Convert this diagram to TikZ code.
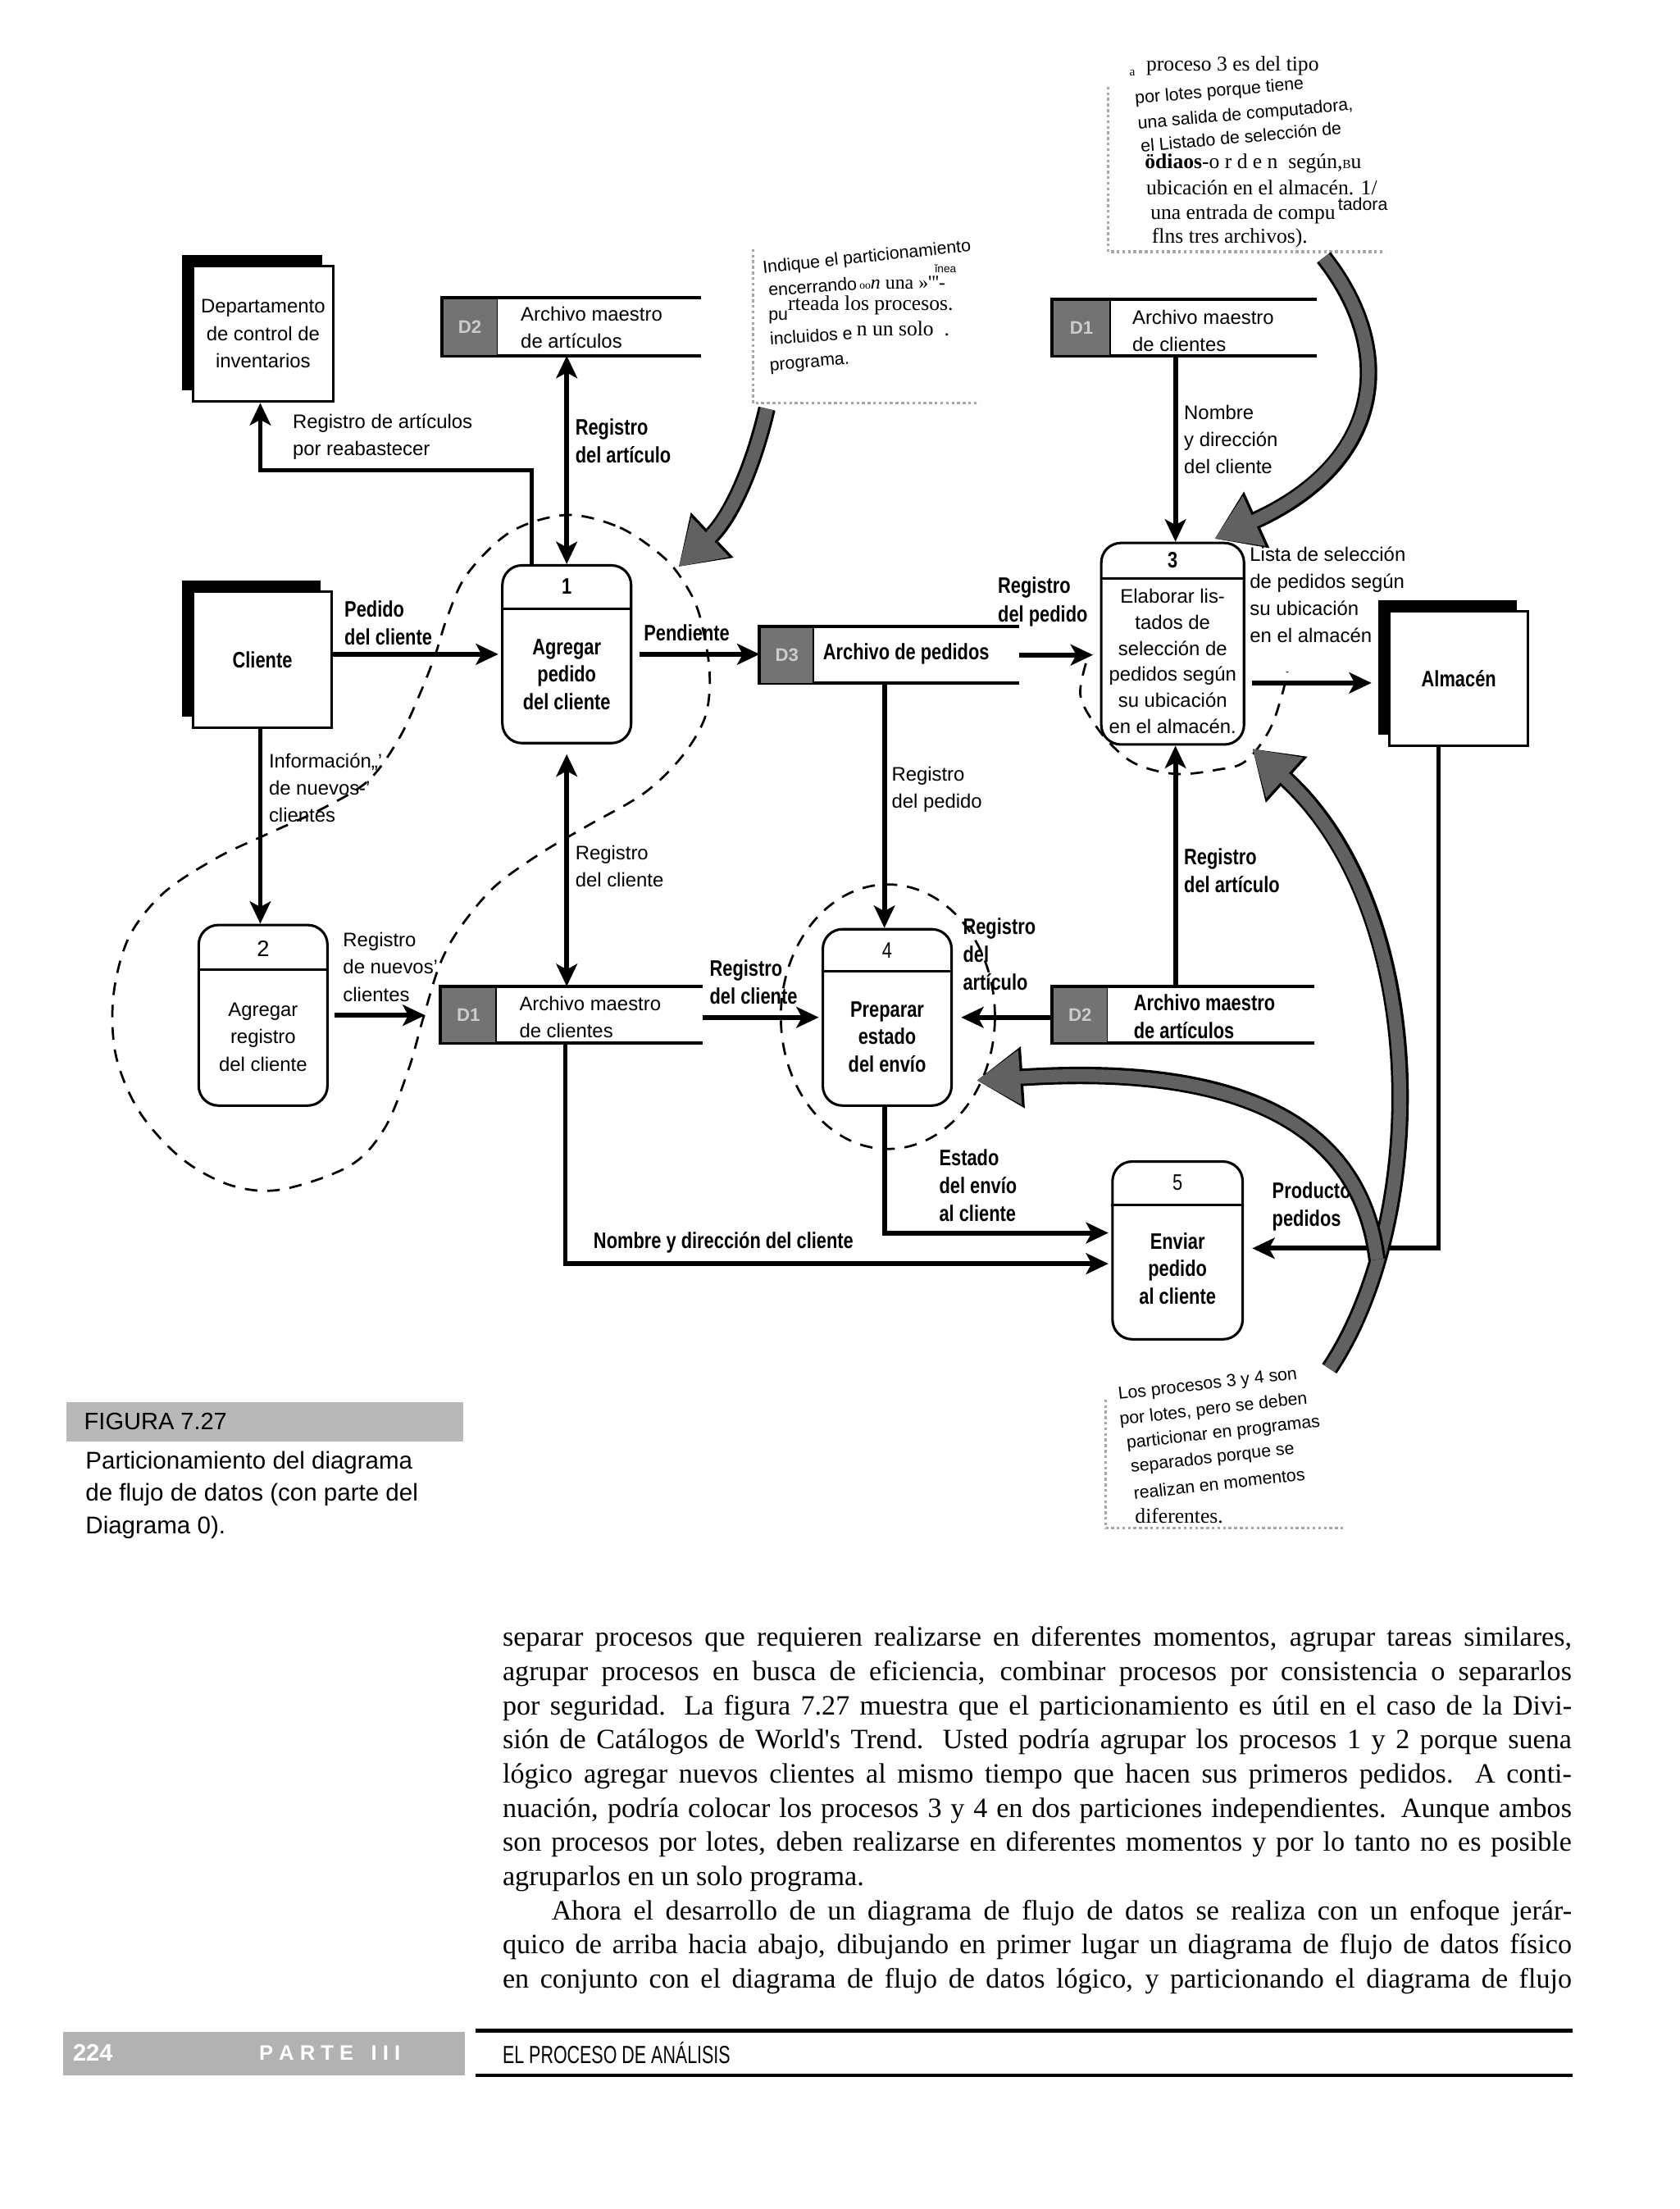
\documentclass[tikz,border=0pt]{standalone}
\usepackage{fontspec}
\setmainfont{Liberation Sans}
\newfontfamily\cnd[FakeStretch=0.8]{Liberation Sans}
\newfontfamily\srf{Liberation Serif}
\newfontfamily\ftr[FakeStretch=0.71]{Liberation Sans}
\usetikzlibrary{arrows.meta,shadows}
\tikzset{
  reg/.style={font=\fontsize{14}{19.5}\selectfont, align=left, inner sep=0pt, anchor=west},
  cl/.style={font=\cnd\bfseries\fontsize{16}{20}\selectfont, align=left, inner sep=0pt, anchor=west},
  ctrreg/.style={font=\fontsize{14}{19.5}\selectfont, align=center, inner sep=0pt},
  ctrcl/.style={font=\cnd\bfseries\fontsize{16}{19.5}\selectfont, align=center, inner sep=0pt},
  fltip/.tip={Stealth[length=16pt,width=15pt,inset=4pt]},
  flow/.style={line width=3.4pt, -fltip},
  flowb/.style={line width=3.4pt, fltip-fltip},
  proc/.style={draw, line width=1.8pt, rounded corners=14pt, inner sep=0pt, fill=white},
  ent/.style={draw, line width=1.8pt, fill=white, inner sep=0pt,
    general shadow={fill=black, shadow xshift=-8pt, shadow yshift=8pt}},
  storebox/.style={inner sep=0pt},
  storeline/.style={line width=2.5pt},
  sid/.style={fill=black!55, draw=black, line width=1pt, inner sep=0pt, text=black!20,
    font=\bfseries\fontsize{13}{13}\selectfont, anchor=north west},
  part/.style={line width=1.6pt, dash pattern=on 9pt off 7pt},
  big/.style={draw=black!62, line width=9pt, -{Triangle[length=31pt,width=37pt]},
    preaction={draw=black, line width=12.5pt, -{Triangle[length=33pt,width=42pt]}}},
  hnd/.style={font=\fontsize{12.5}{15}\selectfont, inner sep=0pt, anchor=west},
  sr/.style={font=\srf\fontsize{15}{17}\selectfont, inner sep=0pt, anchor=west},
  body/.style={font=\srf\fontsize{20}{24}\selectfont, inner sep=0pt, anchor=base west},
  note/.style={draw=black!35, dotted, line width=2pt},
}
\begin{document}
\begin{tikzpicture}[x=1pt,y=-1pt]
\fill[white] (0,0) rectangle (1200,1578.5);
\useasboundingbox (0,0) rectangle (1200,1578.5);

% ---------------- partitions (dashed) ----------------
\draw[part] plot[smooth cycle, tension=0.55] coordinates {(405,368) (443,377) (474,398) (490,418) (500,440) (507,479) (504,512) (487,541) (460,567) (420,590) (386,610) (353,634) (328,664) (314,690) (302,729) (292,764) (275,806) (250,833) (201,850) (165,847) (130,828) (100,795) (83,755) (81,712) (92,670) (117,638) (155,613) (191,596) (230,578) (263,558) (285,528) (300,496) (311,468) (320,440) (334,410) (365,380)};
\draw[part] (634.5,726.5) ellipse [x radius=76.5pt, y radius=94.5pt];
\draw[part] plot[smooth, tension=0.6] coordinates {(776,474) (772,496) (780,514) (794,532) (812,546) (840,553) (870,550) (890,544) (907,522) (916,497) (920,480)};

% ---------------- external entities ----------------
\node[ent, minimum width=100pt, minimum height=97pt, ctrreg] (dept) at (188,238.5) {Departamento\\de control de\\inventarios};
\node[ent, minimum width=99pt, minimum height=97pt, ctrcl] (cli) at (187.5,471.5) {Cliente};
\node[ent, minimum width=99pt, minimum height=96pt, ctrcl] (alm) at (1042.5,485) {Almacén};

% ---------------- data stores ----------------
\node[storebox, minimum width=185pt, minimum height=41pt] (d2t) at (408.5,233.5) {};
\draw[storeline] (d2t.north east) -- (d2t.north west) -- (d2t.south west) -- (d2t.south east);
\node[sid, minimum width=39pt, minimum height=41pt] (d2tid) at (d2t.north west) {D2};
\node[reg] (d2tt) at (372,234) {Archivo maestro\\de artículos};

\node[storebox, minimum width=189pt, minimum height=40pt] (d1t) at (846.5,234) {};
\draw[storeline] (d1t.north east) -- (d1t.north west) -- (d1t.south west) -- (d1t.south east);
\node[sid, minimum width=41pt, minimum height=40pt] (d1tid) at (d1t.north west) {D1};
\node[reg] (d1tt) at (809,236.5) {Archivo maestro\\de clientes};

\node[storebox, minimum width=185pt, minimum height=40pt] (d3) at (635.5,468) {};
\draw[storeline] (d3.north east) -- (d3.north west) -- (d3.south west) -- (d3.south east);
\node[sid, minimum width=38pt, minimum height=40pt] (d3id) at (d3.north west) {D3};
\node[cl] (d3t) at (588,467) {Archivo de pedidos};

\node[storebox, minimum width=187pt, minimum height=40pt] (d1m) at (408.5,725) {};
\draw[storeline] (d1m.north east) -- (d1m.north west) -- (d1m.south west) -- (d1m.south east);
\node[sid, minimum width=39pt, minimum height=40pt] (d1mid) at (d1m.north west) {D1};
\node[reg] (d1mt) at (371,727) {Archivo maestro\\de clientes};

\node[storebox, minimum width=187pt, minimum height=40pt] (d2b) at (845.5,725) {};
\draw[storeline] (d2b.north east) -- (d2b.north west) -- (d2b.south west) -- (d2b.south east);
\node[sid, minimum width=39pt, minimum height=40pt] (d2bid) at (d2b.north west) {D2};
\node[cl] (d2bt) at (810,726.5) {Archivo maestro\\de artículos};

% ---------------- processes ----------------
\node[proc, minimum width=92pt, minimum height=127pt] (p1) at (405,467.5) {};
\draw[line width=1.8pt] ([yshift=-32pt]p1.north west) -- ([yshift=-32pt]p1.north east);
\node[ctrcl] (p1n) at ([yshift=-16pt]p1.north) {1};
\node[ctrcl] (p1t) at ([yshift=-14.5pt]p1.center) {Agregar\\pedido\\del cliente};

\node[proc, minimum width=92pt, minimum height=129pt] (p2) at (188,725.5) {};
\draw[line width=1.8pt] ([yshift=-33pt]p2.north west) -- ([yshift=-33pt]p2.north east);
\node[ctrreg, font=\fontsize{16}{16}\selectfont] (p2n) at ([yshift=-18pt]p2.north) {2};
\node[ctrreg] (p2t) at ([yshift=-15.5pt]p2.center) {Agregar\\registro\\del cliente};

\node[proc, minimum width=102pt, minimum height=144pt] (p3) at (838,460) {};
\draw[line width=1.8pt] ([yshift=-26pt]p3.north west) -- ([yshift=-26pt]p3.north east);
\node[ctrcl] (p3n) at ([yshift=-13pt]p3.north) {3};
\node[ctrreg, font=\fontsize{14}{18.6}\selectfont] (p3t) at ([yshift=-12.5pt]p3.center) {Elaborar lis-\\tados de\\selección de\\pedidos según\\su ubicación\\en el almacén.};

\node[proc, minimum width=92pt, minimum height=126pt] (p4) at (634,727) {};
\draw[line width=1.8pt] ([yshift=-31pt]p4.north west) -- ([yshift=-31pt]p4.north east);
\node[ctrcl, font=\cnd\fontsize{16}{16}\selectfont] (p4n) at ([yshift=-16pt]p4.north) {4};
\node[ctrcl] (p4t) at ([yshift=-14pt]p4.center) {Preparar\\estado\\del envío};

\node[proc, minimum width=93pt, minimum height=127pt] (p5) at (841.5,893.5) {};
\draw[line width=1.8pt] ([yshift=-32pt]p5.north west) -- ([yshift=-32pt]p5.north east);
\node[ctrcl, font=\cnd\fontsize{16}{16}\selectfont] (p5n) at ([yshift=-16pt]p5.north) {5};
\node[ctrcl] (p5t) at ([yshift=-13pt]p5.center) {Enviar\\pedido\\al cliente};

% ---------------- helper coordinates ----------------
\coordinate (b1) at (380,336);
\coordinate (b2) at (186,336);
\coordinate (x405) at (405,0);
\coordinate (x186) at (186,0);
\coordinate (x840) at (840,0);
\coordinate (c488) at (0,488);
\coordinate (c727) at (0,727);
\coordinate (c881) at (632,881);
\coordinate (c903) at (404,903);
\coordinate (c892) at (1028,892);

% ---------------- data flows ----------------
\draw[flow] (p1.north -| b1) -- (b1) -- (b2) -- (dept.south -| b2);
\draw[flowb] (d2t.south -| x405) -- (p1.north -| x405);
\draw[flow, shorten >=2pt] (cli.east |- p1.west) -- (p1.west);
\draw[flow, shorten <=5pt] (p1.east) -- (p1.east -| d3.west);
\draw[flow, shorten >=5pt] (d3.east) -- (d3.east -| p3.west);
\draw[flow] (d1t.south -| x840) -- (p3.north -| x840);
\draw[flow, shorten <=5pt, shorten >=12pt] (p3.east |- c488) -- (alm.west |- c488);
\draw[flow] (cli.south -| x186) -- (p2.north -| x186);
\draw[flow, shorten <=4pt, shorten >=11pt] (p2.east) -- (p2.east -| d1m.west);
\draw[flowb, shorten <=7pt] (p1.south -| x405) -- (d1m.north -| x405);
\draw[flow, shorten >=2pt] (d1m.east |- c727) -- (p4.west |- c727);
\draw[flow] (d3.south -| c881) -- (p4.north -| c881);
\draw[flow, shorten >=6pt] (d2b.west |- c727) -- (p4.east |- c727);
\draw[flow] (d2b.north -| x840) -- (p3.south -| x840);
\draw[flow, shorten >=2pt] (p4.south -| c881) -- (c881) -- (c881 -| p5.west);
\draw[flow, shorten >=2pt] (d1m.south -| c903) -- (c903) -- (c903 -| p5.west);
\draw[flow, shorten >=6pt] (alm.south -| c892) -- (c892) -- (c892 -| p5.east);

% ---------------- flow labels ----------------
\node[reg] (l1) at (209,312) {Registro de artículos\\por reabastecer};
\node[cl] (l2) at (411,315) {Registro\\del artículo};
\node[cl] (l3) at (246,445) {Pedido\\del cliente};
\node[cl] (l4) at (460,452) {Pendiente};
\node[cl] (l5) at (713,430) {Registro\\del pedido};
\node[reg] (l6) at (846,314) {Nombre\\y dirección\\del cliente};
\node[reg] (l7) at (893,425) {Lista de selección\\de pedidos según\\su ubicación\\en el almacén};
\node[reg] (l8) at (192,563) {Información,,'\\de nuevos-'\\clientes};
\node[reg] (l9) at (411,619) {Registro\\del cliente};
\node[reg] (l10) at (637,564) {Registro\\del pedido};
\node[reg] (l11) at (245,691) {Registro\\de nuevos'\\clientes};
\node[cl] (l12) at (507,702) {Registro\\del cliente};
\node[cl] (l13) at (688,682) {Registro\\del\\artículo};
\node[cl] (l14) at (846,622) {Registro\\del artículo};
\node[cl] (l15) at (671,847) {Estado\\del envío\\al cliente};
\node[cl] (l16) at (909,862) {Productos\\pedidos};
\node[cl] (l17) at (424,888) {Nombre y dirección del cliente};

% ---------------- annotation notes ----------------
\draw[note] (792,62) -- (792,180) -- (990,180);
\draw[note] (538,178) -- (538,288) -- (700,288);
\draw[note] (790,1000) -- (790,1092) -- (960,1092);

\node[sr, font=\srf\fontsize{9}{9}\selectfont] (n1a) at (807,52) {a};
\node[sr] (n1b) at (819,47) {proceso 3 es del tipo};
\node[hnd, rotate=5] (n1c) at (811,71) {por lotes porque tiene};
\node[hnd, rotate=5] (n1d) at (813,89) {una salida de computadora,};
\node[hnd, rotate=5] (n1e) at (815,104) {el Listado de selección de};
\node[sr] (n1f) at (818,117) {\textbf{ödiaos}-o r d e n \ según,{\fontsize{9}{9}\selectfont B}u};
\node[sr] (n1g) at (819,134) {ubicación en el almacén. 1/};
\node[sr] (n1h) at (822,153) {una entrada de compu};
\node[hnd] (n1i) at (956,146) {tadora};
\node[sr] (n1j) at (823,170) {flns tres archivos).};

\node[hnd, rotate=6] (n2a) at (545,192) {Indique el particionamiento};
\node[hnd, rotate=4] (n2b) at (549,207) {encerrando};
\node[sr, font=\srf\fontsize{14}{16}\selectfont] (n2c) at (614,202) {{\fontsize{8}{8}\selectfont oo}\textit{n} una »'''-};
\node[hnd, font=\fontsize{8}{8}\selectfont] (n2d) at (668,192) {ǐnea};
\node[hnd] (n2e) at (549,227) {pu};
\node[sr] (n2f) at (563,218) {rteada los procesos.};
\node[hnd, rotate=4] (n2g) at (550,242) {incluidos e};
\node[sr] (n2h) at (612,235) {n un solo \ .};
\node[hnd, rotate=5] (n2i) at (550,263) {programa.};

\node[hnd, rotate=6.5] (n3a) at (799,997) {Los procesos 3 y 4 son};
\node[hnd, rotate=6.5] (n3b) at (800,1015) {por lotes, pero se deben};
\node[hnd, rotate=6.5] (n3c) at (805,1032) {particionar en programas};
\node[hnd, rotate=6.5] (n3d) at (808,1049) {separados porque se};
\node[hnd, rotate=6.5] (n3e) at (810,1067) {realizan en momentos};
\node[sr] (n3f) at (811,1083) {diferentes.};

% ---------------- big pointer arrows ----------------
\draw[big] (946,184) .. controls (998,250) and (990,330) .. (868,385);
\draw[big] (548,292) .. controls (538,335) and (522,370) .. (485,405);
\draw[big] (950,978) .. controls (1022,870) and (1022,650) .. (895,535);
\draw[big] (984,900) .. controls (972,800) and (880,760) .. (698,772);

% ---------------- caption ----------------
\node[fill=black!28, minimum width=284pt, minimum height=28pt, inner sep=0pt, anchor=north west] (figbox) at (47,1002) {};
\node[anchor=west, inner sep=0pt, font=\fontsize{17}{17}\selectfont] (figt) at (60,1016) {FIGURA 7.27};
\node[anchor=north west, align=left, inner sep=0pt, font=\fontsize{17.3}{23}\selectfont] (cap) at (61,1037) {Particionamiento del diagrama\\de flujo de datos (con parte del\\Diagrama 0).};

% ---------------- body text ----------------
\node[body] (t0) at (359,1176.5) {\makebox[764pt][s]{separar procesos que requieren realizarse en diferentes momentos, agrupar tareas similares,}};
\node[body] (t1) at (359,1200.9) {\makebox[764pt][s]{agrupar procesos en busca de eficiencia, combinar procesos por consistencia o separarlos}};
\node[body] (t2) at (359,1225.3) {\makebox[764pt][s]{por seguridad. La figura 7.27 muestra que el particionamiento es útil en el caso de la Divi-}};
\node[body] (t3) at (359,1249.7) {\makebox[764pt][s]{sión de Catálogos de World's Trend. Usted podría agrupar los procesos 1 y 2 porque suena}};
\node[body] (t4) at (359,1274.1) {\makebox[764pt][s]{lógico agregar nuevos clientes al mismo tiempo que hacen sus primeros pedidos. A conti-}};
\node[body] (t5) at (359,1298.5) {\makebox[764pt][s]{nuación, podría colocar los procesos 3 y 4 en dos particiones independientes. Aunque ambos}};
\node[body] (t6) at (359,1322.9) {\makebox[764pt][s]{son procesos por lotes, deben realizarse en diferentes momentos y por lo tanto no es posible}};
\node[body] (t7) at (359,1347.3) {agruparlos en un solo programa.};
\node[body] (t8) at (394,1371.7) {\makebox[729pt][s]{Ahora el desarrollo de un diagrama de flujo de datos se realiza con un enfoque jerár-}};
\node[body] (t9) at (359,1396.1) {\makebox[764pt][s]{quico de arriba hacia abajo, dibujando en primer lugar un diagrama de flujo de datos físico}};
\node[body] (t10) at (359,1420.5) {\makebox[764pt][s]{en conjunto con el diagrama de flujo de datos lógico, y particionando el diagrama de flujo}};

% ---------------- footer ----------------
\node[fill=black!30, minimum width=287pt, minimum height=31pt, inner sep=0pt, anchor=north west] (fbox) at (45,1452) {};
\node[anchor=west, inner sep=0pt, text=white, font=\bfseries\fontsize{17}{17}\selectfont] (fnum) at (52,1467) {224};
\node[anchor=west, inner sep=0pt, text=white, font=\bfseries\fontsize{15}{15}\selectfont] (fpart) at (185,1467) {P A R T E \ \ I I I};
\draw[line width=2.5pt] (340,1451) -- (1124,1451);
\draw[line width=2.5pt] (340,1483) -- (1124,1483);
\node[anchor=west, inner sep=0pt, font=\ftr\fontsize{17.7}{17.7}\selectfont] (ftxt) at (359,1467) {EL PROCESO DE ANÁLISIS};
\end{tikzpicture}
\end{document}
